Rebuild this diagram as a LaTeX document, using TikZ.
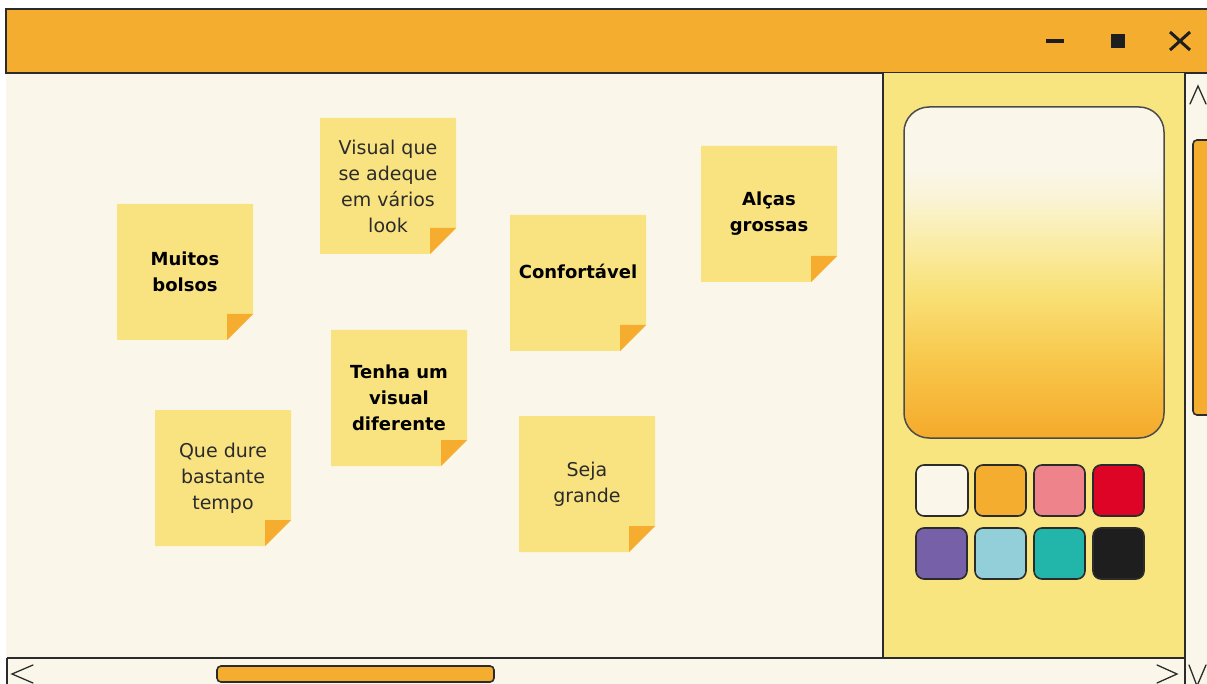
\documentclass[tikz,border=0pt]{standalone}
\usepackage{fontspec}
\setmainfont{DejaVu Sans}
\definecolor{cream}{HTML}{FAF7EA}
\definecolor{barorange}{HTML}{F5AD30}
\definecolor{noteyellow}{HTML}{F9E381}
\definecolor{panelyellow}{HTML}{F9E57F}
\definecolor{foldorange}{HTML}{F5AC2F}
\definecolor{framedark}{HTML}{2B2B2B}
\definecolor{swwhite}{HTML}{FAF7EA}
\definecolor{sworange}{HTML}{F5AD30}
\definecolor{swpink}{HTML}{EE838C}
\definecolor{swred}{HTML}{DD0426}
\definecolor{swpurple}{HTML}{7660A8}
\definecolor{swblue}{HTML}{93CFD8}
\definecolor{swteal}{HTML}{22B5AA}
\definecolor{swblack}{HTML}{1E1E1E}
\definecolor{gA}{HTML}{F5AA2A}
\definecolor{gB}{HTML}{F8C94E}
\definecolor{gC}{HTML}{F9E177}
\definecolor{gD}{HTML}{FAEDAA}
\definecolor{gE}{HTML}{FAF4DA}
\pgfdeclareverticalshading{panelgrad}{100bp}{color(0bp)=(gA); color(25bp)=(gA); color(37.5bp)=(gB); color(47bp)=(gC); color(55bp)=(gD); color(62bp)=(gE); color(66bp)=(cream); color(100bp)=(cream)}
\newcommand\stickynote[5]{%
  \fill[notefill] (#2,#3) -- ++(136,0) -- ++(0,110) -- ++(-26,26) -- ++(-110,0) -- cycle;
  \fill[foldfill] (#2+110,#3+110) -- ++(26,0) -- ++(-26,26) -- cycle;
  \node[#4] (#1) at (#2+68,#3+68) {#5};
}
\newcommand\stickynoteat[6]{%
  \fill[notefill] (#2,#3) -- ++(136,0) -- ++(0,110) -- ++(-26,26) -- ++(-110,0) -- cycle;
  \fill[foldfill] (#2+110,#3+110) -- ++(26,0) -- ++(-26,26) -- cycle;
  \node[#4] (#1) at (#2+68,#6) {#5};
}
\begin{document}
\begin{tikzpicture}[x=1pt,y=-1pt,
  notefill/.style={fill=noteyellow},
  foldfill/.style={fill=foldorange},
  boldtext/.style={align=center,inner sep=0pt,text=black,font=\fontsize{18}{26}\selectfont\bfseries},
  regtext/.style={align=center,inner sep=0pt,text=framedark,font=\fontsize{19}{26}\selectfont},
  frameline/.style={draw=framedark,line width=2pt},
  swatch/.style={draw=framedark,line width=1.6pt,rounded corners=8pt},
  glyph/.style={draw=framedark,line width=1.3pt,line cap=round,line join=miter},
  thumb/.style={fill=barorange,draw=framedark,line width=1.6pt,rounded corners=4pt}]
\useasboundingbox (0,0) rectangle (1207,684);
\fill[white] (0,0) rectangle (1207,684);
% canvas
\fill[cream] (6,73) rectangle (1207,684);
% title bar
\fill[barorange] (6,9) rectangle (1207,73);
\draw[frameline] (1210,9) -- (6,9) -- (6,73) -- (1210,73);
% window controls
\draw[line width=3.5pt,draw=swblack] (1046,41) -- (1064,41);
\fill[swblack] (1111,34) rectangle (1125,48);
\draw[line width=3pt,draw=swblack] (1170,32) -- (1190,50) (1190,32) -- (1170,50);
% right panel
\fill[panelyellow] (883,73) rectangle (1185,657);
\draw[frameline] (883,73) -- (883,657);
\draw[frameline] (7,658) -- (1185,658);
\draw[frameline] (1185,73) -- (1185,686);
\draw[frameline] (7,658) -- (7,686);
% gradient preview
\shade[shading=panelgrad] (904,107) [rounded corners=25pt] rectangle (1164,438);
\draw[draw=framedark!85,line width=1.5pt,rounded corners=25pt] (904,107) rectangle (1164,438);
% swatches
\path[swatch,fill=swwhite]  (916,465) rectangle (968,516);
\path[swatch,fill=sworange] (975,465) rectangle (1026,516);
\path[swatch,fill=swpink]   (1034,465) rectangle (1085,516);
\path[swatch,fill=swred]    (1093,465) rectangle (1144,516);
\path[swatch,fill=swpurple] (916,528) rectangle (967,579);
\path[swatch,fill=swblue]   (975,528) rectangle (1026,579);
\path[swatch,fill=swteal]   (1034,528) rectangle (1085,579);
\path[swatch,fill=swblack]  (1093,528) rectangle (1144,579);
% scrollbars
\path[thumb] (1193,140) rectangle (1214,415);
\path[thumb] (217,666) rectangle (494,682);
\draw[glyph] (1190,104) -- (1198,86) -- (1206,104);
\draw[glyph] (1189,665) -- (1197,686) -- (1206,665);
\draw[glyph] (33,665) -- (12,674) -- (33,683);
\draw[glyph] (1157,665) -- (1177,674) -- (1157,683);
% sticky notes
\stickynote{n1}{117}{204}{boldtext}{Muitos\\bolsos}
\stickynote{n2}{320}{118}{regtext}{Visual que\\se adeque\\em vários\\look}
\stickynoteat{n3}{510}{215}{boldtext}{Confortável}{271}
\stickynote{n4}{701}{146}{boldtext}{Alças\\grossas}
\stickynote{n5}{331}{330}{boldtext}{Tenha um\\visual\\diferente}
\stickynote{n6}{155}{410}{regtext}{Que dure\\bastante\\tempo}
\stickynote{n7}{519}{416}{regtext}{Seja\\grande}
\end{tikzpicture}
\end{document}
